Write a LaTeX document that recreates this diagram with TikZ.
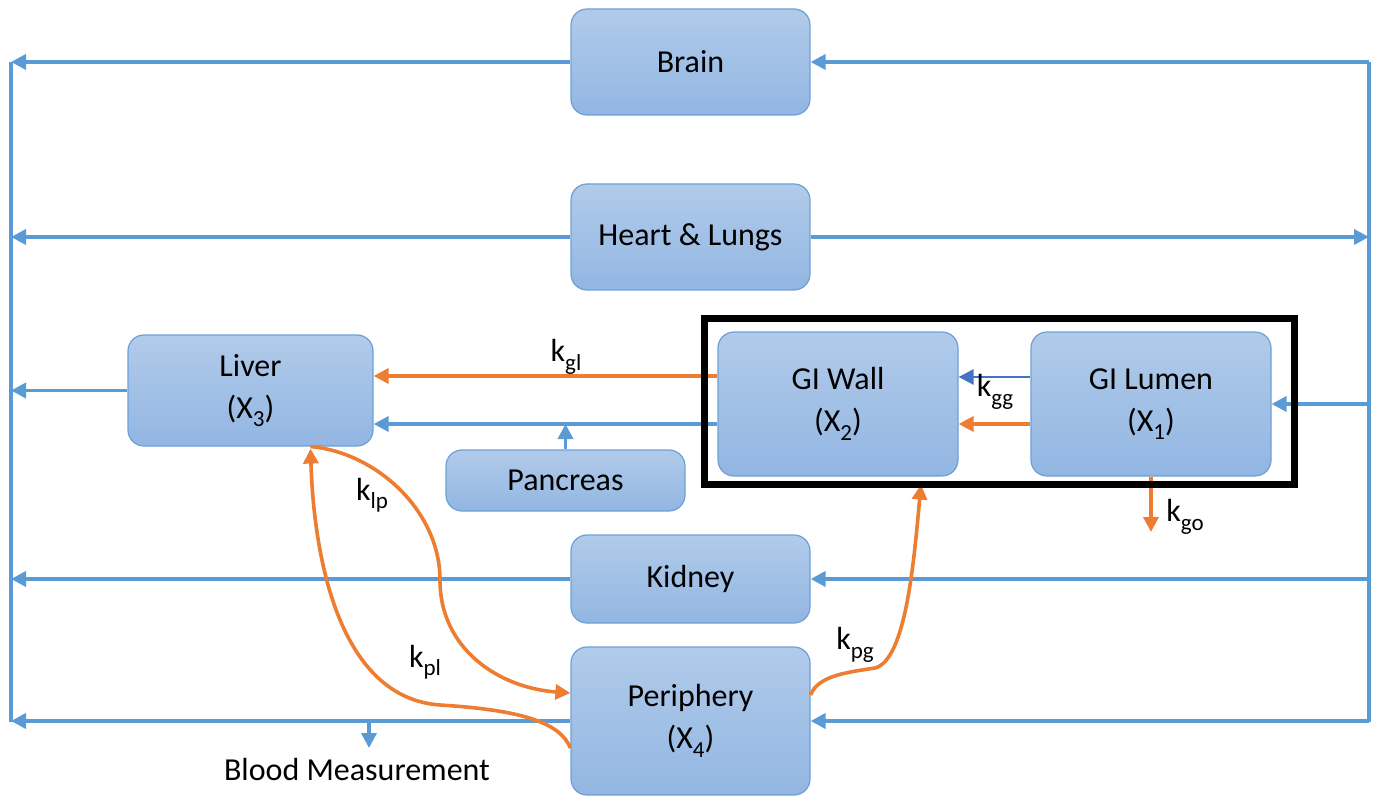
\documentclass[tikz,border=0pt]{standalone}
\usepackage{fontspec}
\setmainfont{Carlito}
\usetikzlibrary{arrows.meta}
\definecolor{flowblue}{RGB}{91,155,213}
\definecolor{flowdark}{RGB}{68,114,196}
\definecolor{floworange}{RGB}{237,125,49}
\definecolor{boxtop}{RGB}{177,203,234}
\definecolor{boxbot}{RGB}{146,182,226}
\definecolor{boxline}{RGB}{110,160,215}
% lowered subscript in the Calibri manner
\newcommand{\lowsub}[1]{\raisebox{-0.55ex}{\fontsize{11.5}{12}\selectfont #1}}
\begin{document}
\begin{tikzpicture}[x=0.5pt,y=-0.5pt,
  organ/.style={draw=boxline, line width=0.6pt, rounded corners=8pt,
    top color=boxtop, bottom color=boxbot, align=center, inner sep=0pt,
    font=\fontsize{16}{21}\selectfont},
  lbl/.style={inner sep=0pt, font=\fontsize{16}{19}\selectfont},
  tip/.style={-{Triangle[length=7.5pt,width=7.5pt]}},
  barr/.style={tip, draw=flowblue, line width=1.8pt},
  darr/.style={tip, draw=flowdark, line width=1.3pt},
  oarr/.style={tip, draw=floworange, line width=1.8pt},
  rail/.style={draw=flowblue, line width=1.8pt}]
\useasboundingbox (0,0) rectangle (1378,797);

% organ compartments
\node[organ, minimum width=119.5pt, minimum height=53pt]   (brain)  at (690.5,62)   {Brain};
\node[organ, minimum width=119.5pt, minimum height=53pt]   (heart)  at (690.5,237)  {Heart \& Lungs};
\node[organ, minimum width=122.5pt, minimum height=55.5pt] (liver)  at (250.5,390.5) {Liver\\(X\lowsub{3})};
\node[organ, minimum width=120pt,   minimum height=72pt]   (wall)   at (838,404)    {GI Wall\\(X\lowsub{2})};
\node[organ, minimum width=120pt,   minimum height=72pt]   (lumen)  at (1151,404)   {GI Lumen\\(X\lowsub{1})};
\node[organ, minimum width=119.5pt, minimum height=30.5pt] (panc)   at (565.5,480.5) {Pancreas};
\node[organ, minimum width=119.5pt, minimum height=44pt]   (kidney) at (690.5,579)  {Kidney};
\node[organ, minimum width=119.5pt, minimum height=74pt]   (periph) at (690.5,721)  {Periphery\\(X\lowsub{4})};

% rails and helper coordinates
\coordinate (L)  at (11,0);
\coordinate (R)  at (1369,0);
\coordinate (Lt) at (11,62);
\coordinate (Lb) at (11,722);
\coordinate (Rt) at (1369,62);
\coordinate (Rb) at (1369,722);
\coordinate (y376) at (0,376);
\coordinate (y377) at (0,377);
\coordinate (y424) at (0,424);
\coordinate (go)  at (1151,532);
\coordinate (bm)  at (369,748);

\path[rail] (Lt) -- (Lb);
\path[rail] (Rt) -- (Rb);

% venous return to the left rail
\draw[barr] (brain.west)  -- (brain.west -| L);
\draw[barr] (heart.west)  -- (heart.west -| L);
\draw[barr] (liver.west)  -- (liver.west -| L);
\draw[barr] (kidney.west) -- (kidney.west -| L);
\draw[barr] (periph.west) -- (periph.west -| L);
\draw[barr] (bm |- periph.west) -- (bm);

% arterial supply from the right rail
\draw[barr] (brain.east -| R)  -- (brain.east);
\draw[barr] (heart.east)       -- (heart.east -| R);
\draw[barr] (lumen.east -| R)  -- (lumen.east);
\draw[barr] (kidney.east -| R) -- (kidney.east);
\draw[barr] (periph.east -| R) -- (periph.east);

% portal flow into the liver
\draw[oarr] (wall.west |- y376) -- (liver.east |- y376);
\draw[barr] (wall.west |- y424) -- (liver.east |- y424);
\draw[barr] (panc.north) -- (panc.north |- y424);

% gut transfer
\draw[darr] (lumen.west |- y377) -- (wall.east |- y377);
\draw[oarr] (lumen.west |- y424) -- (wall.east |- y424);
\draw[oarr] (lumen.south) -- (go);

% exchange with the periphery
\draw[oarr] ([xshift=30pt]liver.south) .. controls (375,452) and (440,510) .. (440,580)
  .. controls (440,650) and (500,688) .. ([yshift=14pt]periph.west);
\draw[oarr] ([yshift=-13.5pt]periph.west) .. controls (560,722) and (520,710) .. (440,705)
  .. controls (340,698) and (314,560) .. ([xshift=30pt,yshift=-1pt]liver.south);
\draw[oarr] ([yshift=13pt]periph.east) .. controls (818,675) and (850,672) .. (875,668)
  .. controls (906,660) and (914,560) .. ([xshift=41.5pt,yshift=-4pt]wall.south);

% gut compartment frame
\node[draw=black, line width=3.5pt, minimum width=295pt, minimum height=83pt, inner sep=0pt] (gut) at (999,401) {};

% rate constants and captions
\node[lbl] (kgl) at (566,357) {k\lowsub{gl}};
\node[lbl] (kgg) at (995,392) {k\lowsub{gg}};
\node[lbl] (kgo) at (1185,517) {k\lowsub{go}};
\node[lbl] (klp) at (372,495) {k\lowsub{lp}};
\node[lbl] (kpl) at (425,662) {k\lowsub{pl}};
\node[lbl] (kpg) at (855,645) {k\lowsub{pg}};
\node[lbl] (blood) at (357,770) {Blood Measurement};
\end{tikzpicture}
\end{document}
